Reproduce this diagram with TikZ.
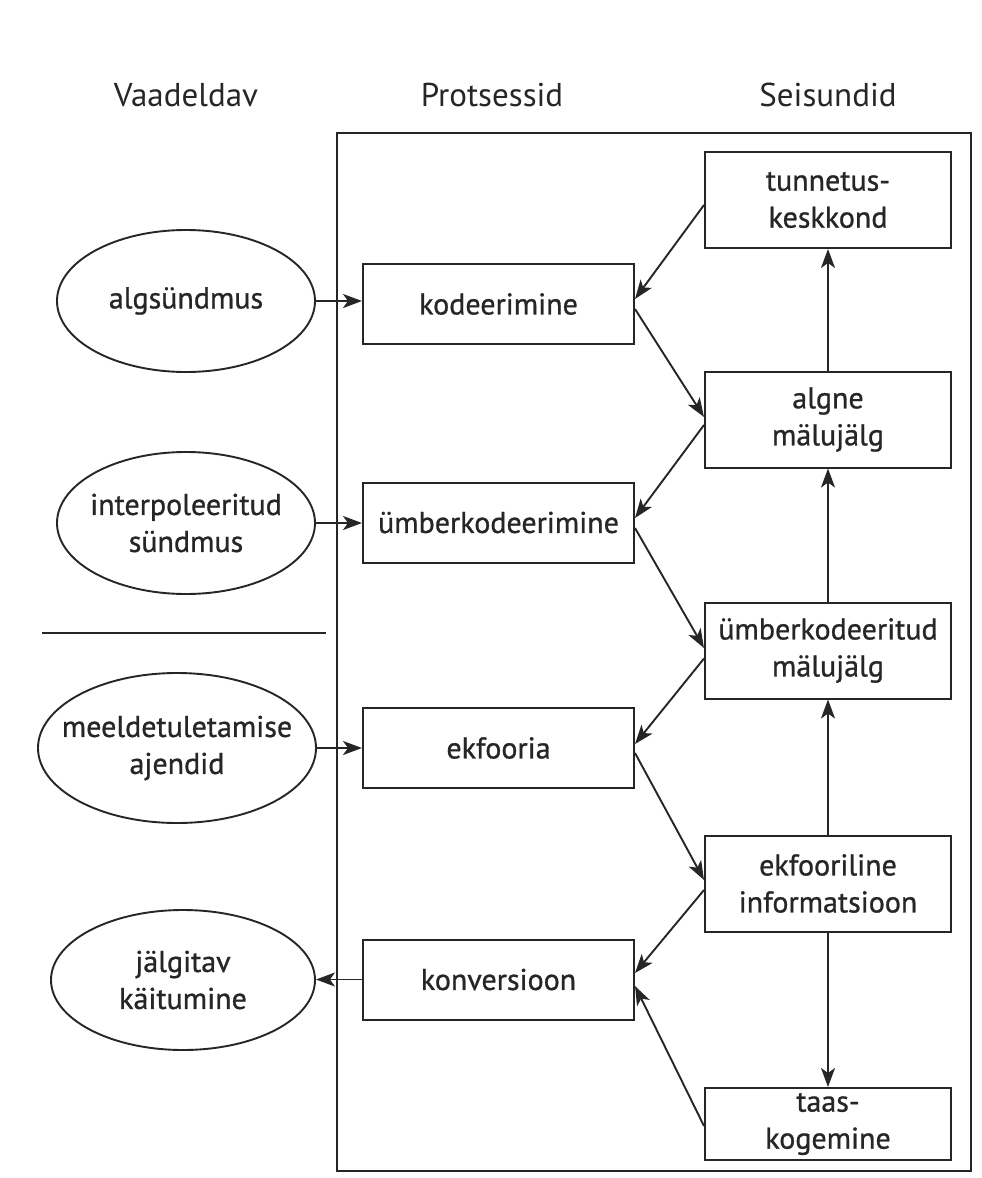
\documentclass[tikz,border=0pt]{standalone}
\usepackage{fontspec}
\setmainfont{PT Sans}
\newfontfamily\medfont{PT Sans}[FakeBold=0.9]
\usetikzlibrary{arrows.meta,shapes.geometric,calc}
\begin{document}
\begin{tikzpicture}[x=1pt,y=-1pt,
  ln/.style={line width=1.9pt, draw=black!85},
  arr/.style={ln, -{Stealth[length=19pt,width=14pt,inset=5pt]}},
  txt/.style={font=\medfont\fontsize{30}{37}\selectfont, text=black!85, align=center},
  proc/.style={txt, draw=black!85, line width=2pt, minimum width=271pt, minimum height=80pt, inner sep=0pt},
  state/.style={proc, minimum width=246pt, minimum height=96pt},
  obs/.style={ellipse, draw=black!85, line width=1.9pt, inner sep=0pt},
  hdr/.style={font=\fontsize{33}{38}\selectfont, text=black!85}]
\useasboundingbox (0,0) rectangle (982,1178);
\fill[white] (0,0) rectangle (982,1178);

% headers
\node[hdr] (h1) at (186,95) {Vaadeldav};
\node[hdr] (h2) at (492,95) {Protsessid};
\node[hdr] (h3) at (828,95) {Seisundid};

% frame
\node[draw=black!85, line width=1.9pt, minimum width=634pt, minimum height=1038pt, inner sep=0pt] (frame) at (654,652) {};

% divider
\coordinate (d1) at (42,633);
\coordinate (d2) at (326,633);
\draw[ln] (d1) -- (d2);

% observables
\node[obs, minimum width=258pt, minimum height=142pt, label={[txt]center:algsündmus}] (algs) at (186,301) {};
\node[obs, minimum width=258pt, minimum height=142pt, label={[txt]center:interpoleeritud\\sündmus}] (interp) at (186,523) {};
\node[obs, minimum width=278pt, minimum height=150pt, label={[txt]center:meeldetuletamise\\ajendid}] (meel) at (177,748) {};
\node[obs, minimum width=264pt, minimum height=140pt, label={[txt]center:jälgitav\\käitumine}] (jalg) at (183,980) {};

% processes
\node[proc] (kod) at (498.5,304) {kodeerimine};
\node[proc] (umk) at (498.5,522.5) {ümberkodeerimine};
\node[proc] (ekf) at (498.5,748) {ekfooria};
\node[proc] (kon) at (498.5,979.5) {konversioon};

% states
\node[state] (tun) at (828,200) {tunnetus-\\keskkond};
\node[state] (alg) at (828,419.5) {algne\\mälujälg};
\node[state] (umm) at (828,650.5) {ümberkodeeritud\\mälujälg};
\node[state] (eki) at (828,883.5) {ekfooriline\\informatsioon};
\node[state, minimum height=72pt] (taas) at (828,1124) {taas-\\kogemine};

% horizontal arrows
\draw[arr] (algs.east) -- (algs.east -| kod.west);
\draw[arr] (interp.east) -- (interp.east -| umk.west);
\draw[arr] (meel.east) -- (meel.east -| ekf.west);
\draw[arr] (kon.west) -- (kon.west -| jalg.east);

% diagonal arrows
\draw[arr] ([yshift=-5pt]tun.west) -- ([yshift=5pt]kod.east);
\draw[arr] ([yshift=-5pt]kod.east) -- ([yshift=2.5pt]alg.west);
\draw[arr] ([yshift=-5.5pt]alg.west) -- ([yshift=4.5pt]umk.east);
\draw[arr] ([yshift=-5.5pt]umk.east) -- ([yshift=2.5pt]umm.west);
\draw[arr] ([yshift=-8pt]umm.west) -- ([yshift=4pt]ekf.east);
\draw[arr] ([yshift=-5pt]ekf.east) -- ([yshift=3.5pt]eki.west);
\draw[arr] ([yshift=-6.5pt]eki.west) -- ([yshift=6.5pt]kon.east);
\draw[arr] ([yshift=-2pt]taas.west) -- ([yshift=-6.5pt]kon.east);

% vertical arrows
\draw[arr] (alg.north) -- (tun.south);
\draw[arr] (umm.north) -- (alg.south);
\draw[arr] (eki.north) -- (umm.south);
\draw[arr] (eki.south) -- (taas.north);
\end{tikzpicture}
\end{document}
